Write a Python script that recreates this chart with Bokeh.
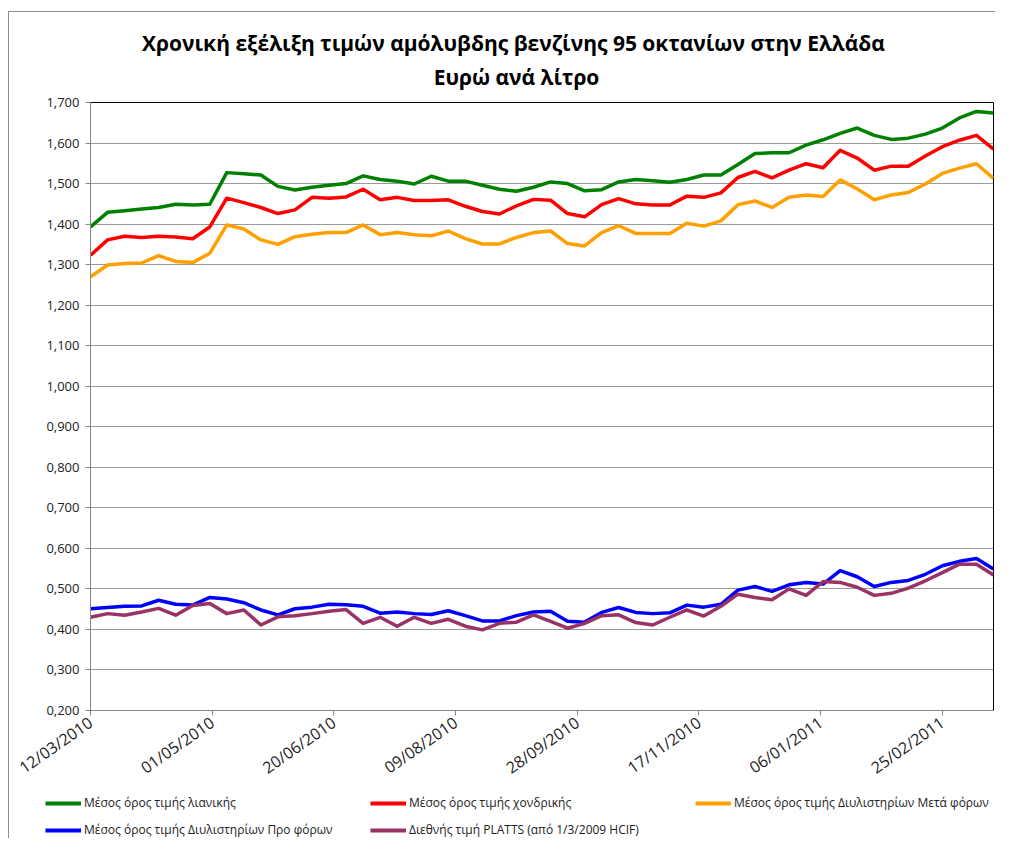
from datetime import datetime
import math
from bokeh.plotting import figure
from bokeh.layouts import column
from bokeh.models import (Range1d, FixedTicker, CustomJSTickFormatter, DatetimeTickFormatter,
                          Legend, LegendItem, Label)
from bokeh.embed import file_html
from bokeh.resources import INLINE

dates = ["2010-03-12", "2010-03-19", "2010-03-26", "2010-04-02", "2010-04-09", "2010-04-16",
         "2010-04-23", "2010-04-30", "2010-05-07", "2010-05-14", "2010-05-21", "2010-05-28",
         "2010-06-04", "2010-06-11", "2010-06-18", "2010-06-25", "2010-07-02", "2010-07-09",
         "2010-07-16", "2010-07-23", "2010-07-30", "2010-08-06", "2010-08-13", "2010-08-20",
         "2010-08-27", "2010-09-03", "2010-09-10", "2010-09-17", "2010-09-24", "2010-10-01",
         "2010-10-08", "2010-10-15", "2010-10-22", "2010-10-29", "2010-11-05", "2010-11-12",
         "2010-11-19", "2010-11-26", "2010-12-03", "2010-12-10", "2010-12-17", "2010-12-24",
         "2010-12-31", "2011-01-07", "2011-01-14", "2011-01-21", "2011-01-28", "2011-02-04",
         "2011-02-11", "2011-02-18", "2011-02-25", "2011-03-04", "2011-03-11", "2011-03-18"]

retail = [1.393, 1.429, 1.433, 1.437, 1.441, 1.449, 1.447, 1.449, 1.527, 1.524, 1.521, 1.493, 1.484, 1.491, 1.496,
          1.500, 1.519, 1.510, 1.506, 1.499, 1.518, 1.506, 1.506, 1.496, 1.486, 1.481, 1.491, 1.504, 1.500, 1.482,
          1.485, 1.504, 1.510, 1.507,
          1.503, 1.510, 1.521, 1.521, 1.547, 1.574, 1.576, 1.576, 1.595, 1.608, 1.624, 1.637, 1.619, 1.609, 1.612,
          1.622, 1.637, 1.662, 1.678, 1.674]

wholesale = [1.323, 1.361, 1.370, 1.367, 1.370, 1.368, 1.364, 1.393, 1.464, 1.453, 1.441, 1.426, 1.435, 1.466, 1.464,
             1.467, 1.486, 1.460, 1.466, 1.458, 1.458, 1.460, 1.444, 1.431, 1.425, 1.445, 1.461, 1.459, 1.426, 1.418,
             1.448, 1.463, 1.450, 1.447,
             1.447, 1.469, 1.466, 1.477, 1.515, 1.530, 1.514, 1.533, 1.549, 1.539, 1.582, 1.563, 1.533, 1.543, 1.543,
             1.568, 1.591, 1.607, 1.619, 1.585]

refinery_after_tax = [1.270, 1.299, 1.303, 1.304, 1.322, 1.308, 1.305, 1.328, 1.398, 1.388, 1.361, 1.350, 1.369, 1.375,
                      1.379, 1.379, 1.398, 1.374, 1.379, 1.374, 1.371, 1.383, 1.364, 1.351, 1.351, 1.367, 1.379, 1.383,
                      1.352, 1.346, 1.379, 1.396, 1.377, 1.377,
                      1.377, 1.402, 1.395, 1.408, 1.448, 1.457, 1.441, 1.466, 1.472, 1.468, 1.509, 1.487, 1.460, 1.472,
                      1.478, 1.499, 1.525, 1.538, 1.549, 1.513]

refinery_pre_tax = [0.451, 0.454, 0.457, 0.458, 0.472, 0.462, 0.460, 0.479, 0.475, 0.466, 0.448, 0.436, 0.451, 0.455,
                    0.462, 0.461, 0.457, 0.440, 0.443, 0.439, 0.437, 0.446, 0.434, 0.421, 0.421, 0.434, 0.443, 0.445,
                    0.420, 0.418, 0.442, 0.454, 0.442, 0.439,
                    0.441, 0.460, 0.455, 0.462, 0.497, 0.506, 0.494, 0.510, 0.516, 0.512, 0.545, 0.530, 0.506, 0.516,
                    0.521, 0.536, 0.557, 0.568, 0.575, 0.549]

platts = [0.430, 0.439, 0.435, 0.443, 0.452, 0.435, 0.459, 0.464, 0.439, 0.448, 0.411, 0.431, 0.434, 0.439, 0.445,
          0.449, 0.415, 0.430, 0.408, 0.430, 0.415, 0.425, 0.408, 0.399, 0.415, 0.418, 0.436, 0.420, 0.403, 0.415,
          0.434, 0.436, 0.417, 0.411,
          0.430, 0.448, 0.433, 0.457, 0.487, 0.479, 0.473, 0.500, 0.484, 0.518, 0.516, 0.504, 0.484, 0.489, 0.502,
          0.520, 0.540, 0.561, 0.561, 0.534]

series_names = ["Μέσος όρος τιμής λιανικής",
                "Μέσος όρος τιμής χονδρικής",
                "Μέσος όρος τιμής Διυλιστηρίων Μετά φόρων",
                "Μέσος όρος τιμής Διυλιστηρίων Προ φόρων",
                "Διεθνής τιμή PLATTS (από 1/3/2009 HCIF)"]
series_colors = ["#008000", "#ff0000", "#ffa000", "#0000ff", "#993366"]

x_tick_dates = ["2010-03-12", "2010-05-01", "2010-06-20", "2010-08-09",
                "2010-09-28", "2010-11-17", "2011-01-06", "2011-02-25"]
y_ticks = [0.2, 0.3, 0.4, 0.5, 0.6, 0.7, 0.8, 0.9, 1.0, 1.1, 1.2, 1.3, 1.4, 1.5, 1.6, 1.7]

title_line1 = "Χρονική εξέλιξη τιμών αμόλυβδης βενζίνης 95 οκτανίων στην Ελλάδα"
title_line2 = "Ευρώ ανά λίτρο"

FONT = "Open Sans"
W = 995
BORDER = "#8c8c8c"

xs = [datetime.strptime(d, "%Y-%m-%d") for d in dates]


def ms(d):
    return (datetime.strptime(d, "%Y-%m-%d") - datetime(1970, 1, 1)).total_seconds() * 1000.0


def bare(fig):
    fig.title = None
    fig.xgrid.visible = False
    fig.ygrid.visible = False
    fig.outline_line_color = None
    fig.border_fill_color = None
    fig.background_fill_color = None


# ---------------- title strip ----------------
TH = 92
tfig = figure(width=W, height=TH, output_backend="svg", toolbar_location=None,
              x_range=Range1d(0, W), y_range=Range1d(TH, 0),
              min_border_left=0, min_border_right=0, min_border_top=0, min_border_bottom=0,
              x_axis_location=None, y_axis_location=None)
tfig.frame_align = False
bare(tfig)
tfig.styles = {"background": f"linear-gradient({BORDER},{BORDER}) 8px 11px / 1px calc(100% - 11px) no-repeat, "
                             f"linear-gradient({BORDER},{BORDER}) 8px 11px / calc(100% - 8px) 1px no-repeat, #ffffff"}
tfig.add_layout(Label(x=513, y=42, text=title_line1, text_align="center", text_baseline="alphabetic",
                      text_font=FONT, text_font_size="21px", text_font_style="bold", text_color="#000000"))
tfig.add_layout(Label(x=516, y=76, text=title_line2, text_align="center", text_baseline="alphabetic",
                      text_font=FONT, text_font_size="21px", text_font_style="bold", text_color="#000000"))

# ---------------- main chart ----------------
MH = 698
p = figure(width=W, height=MH, output_backend="svg", toolbar_location=None,
           x_axis_type="datetime",
           x_range=Range1d(xs[0], xs[-1]), y_range=Range1d(0.2, 1.7),
           min_border_left=90, min_border_right=2, min_border_top=10, min_border_bottom=78)
p.title = None
p.frame_align = False
p.styles = {"background": f"linear-gradient({BORDER},{BORDER}) 8px 0px / 1px 100% no-repeat, #ffffff"}
p.border_fill_color = None
p.outline_line_color = "#000000"
p.outline_line_width = 1
p.background_fill_color = "#ffffff"

p.xgrid.visible = False
p.ygrid.ticker = FixedTicker(ticks=y_ticks)
p.ygrid.grid_line_color = "#9a9a9a"
p.ygrid.grid_line_width = 1

p.yaxis.ticker = FixedTicker(ticks=y_ticks)
p.yaxis.formatter = CustomJSTickFormatter(code="return tick.toFixed(3).replace('.', ',');")
p.yaxis.axis_line_color = "#868686"
p.yaxis.major_tick_line_color = "#868686"
p.yaxis.major_tick_out = 5
p.yaxis.major_tick_in = 0
p.yaxis.minor_tick_line_color = None
p.yaxis.major_label_text_font = FONT
p.yaxis.major_label_text_font_size = "13px"
p.yaxis.major_label_text_color = "#222222"
p.yaxis.major_label_standoff = 6

p.xaxis.ticker = FixedTicker(ticks=[ms(d) for d in x_tick_dates])
fmt = "%d/%m/%Y"
p.xaxis.formatter = DatetimeTickFormatter(microseconds=fmt, milliseconds=fmt, seconds=fmt, minsec=fmt,
                                          minutes=fmt, hourmin=fmt, hours=fmt, days=fmt, months=fmt, years=fmt)
p.xaxis.axis_line_color = "#868686"
p.xaxis.major_tick_line_color = "#868686"
p.xaxis.major_tick_out = 5
p.xaxis.major_tick_in = 0
p.xaxis.minor_tick_line_color = None
p.xaxis.major_label_orientation = math.radians(35)
p.xaxis.major_label_text_font = FONT
p.xaxis.major_label_text_font_size = "16px"
p.xaxis.major_label_text_color = "#222222"
p.xaxis.major_label_standoff = 5

all_series = [retail, wholesale, refinery_after_tax, refinery_pre_tax, platts]
for vals, col in zip(all_series, series_colors):
    p.line(xs, vals, line_color=col, line_width=3.5, line_join="round")

# ---------------- legend strip ----------------
LH = 838 - TH - MH
lfig = figure(width=W, height=LH, output_backend="svg", toolbar_location=None,
              x_range=Range1d(0, 1), y_range=Range1d(0, 1),
              min_border_left=0, min_border_right=0, min_border_top=0, min_border_bottom=0,
              x_axis_location=None, y_axis_location=None)
lfig.frame_align = False
bare(lfig)
lfig.styles = {"background": f"linear-gradient({BORDER},{BORDER}) 8px 0px / 1px 100% no-repeat, #ffffff"}
# legend keys only: their (off-range) anchor points are never inside the visible frame
leg_renderers = [lfig.line(x=[5, 6], y=[5, 6], line_color=c, line_width=4) for c in series_colors]
items = [LegendItem(label=n, renderers=[r]) for n, r in zip(series_names, leg_renderers)]
legend = Legend(items=items, orientation="horizontal", ncols=3,
                location=(45, 0),
                glyph_width=36, glyph_height=14, label_height=14, label_width=276,
                label_standoff=3, spacing=10, padding=0, margin=0,
                label_text_font=FONT, label_text_font_size="12px", label_text_color="#222222",
                border_line_color=None, background_fill_alpha=0)
lfig.add_layout(legend, "center")

layout = column(tfig, p, lfig, spacing=0)
open("out.html", "w").write(file_html(layout, INLINE))
